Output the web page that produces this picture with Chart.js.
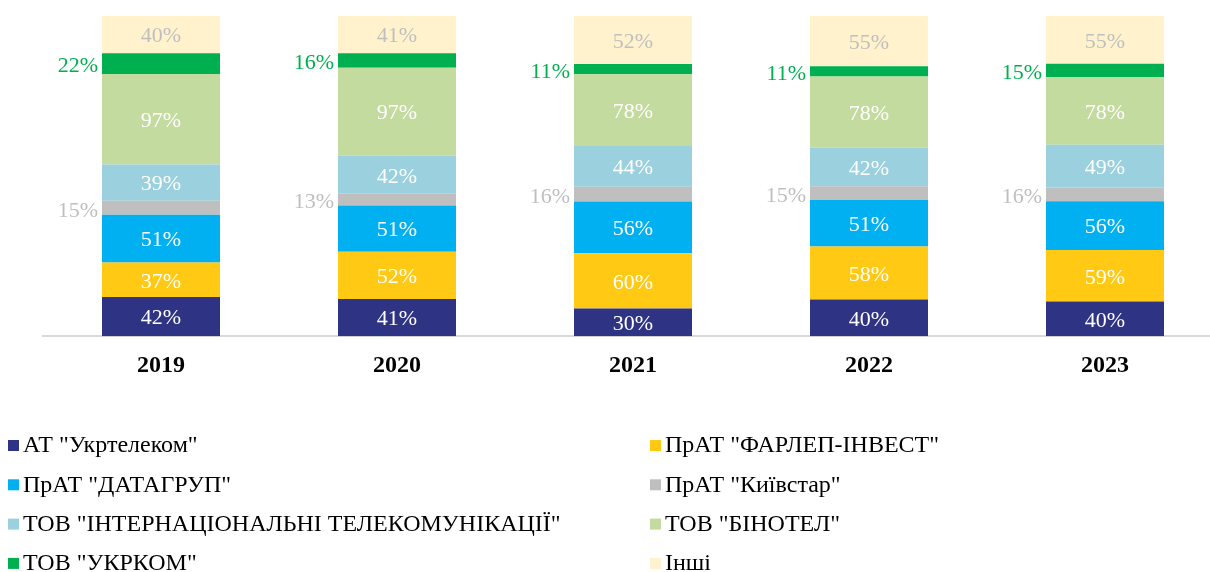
<!DOCTYPE html>
<html>
<head>
<meta charset="utf-8">
<script src="https://cdn.jsdelivr.net/npm/chart.js@4.4.1/dist/chart.umd.min.js"></script>
<style>
    body { margin: 0; background: #fff; overflow: hidden; width: 1210px; height: 572px; position: relative; }
    #wrap { position: absolute; left: 0; top: 0; width: 1223px; height: 572px; }
</style>
</head>
<body>
<div id="wrap"><canvas id="barChart"></canvas></div>
<script>
const years = ["2019", "2020", "2021", "2022", "2023"];

// значення з підписів діаграми, %
const ukrtelecom = [42, 41, 30, 40, 40];
const farlep = [37, 52, 60, 58, 59];
const datagroup = [51, 51, 56, 51, 56];
const kyivstar = [15, 13, 16, 15, 16];
const intTelecom = [39, 42, 44, 42, 49];
const binotel = [97, 97, 78, 78, 78];
const ukrkom = [22, 16, 11, 11, 15];
const others = [40, 41, 52, 55, 55];

const seriesNames = [
    'АТ "Укртелеком"',
    'ПрАТ "ФАРЛЕП-ІНВЕСТ"',
    'ПрАТ "ДАТАГРУП"',
    'ПрАТ "Київстар"',
    'ТОВ "ІНТЕРНАЦІОНАЛЬНІ ТЕЛЕКОМУНІКАЦІЇ"',
    'ТОВ "БІНОТЕЛ"',
    'ТОВ "УКРКОМ"',
    "Інші",
];
const seriesValues = [ukrtelecom, farlep, datagroup, kyivstar, intTelecom, binotel, ukrkom, others];
const seriesColors = ["#2E3384", "#FFC914", "#00B0F0", "#BFBFBF", "#9BD0DF", "#C4DBA0", "#00B050", "#FFF2CC"];
// колір і розташування підписів
const labelColors = ["#fff", "#fff", "#fff", "#BFBFBF", "#fff", "#fff", "#00B050", "#BFBFBF"];
const labelOutside = [false, false, false, true, false, false, true, false];

const FONT = "'Liberation Serif', serif";

// стовпці нормуються до 100% (як у Excel "100% stacked")
const totals = years.map((_, i) => seriesValues.reduce((s, arr) => s + arr[i], 0));

const datasets = seriesNames.map((name, k) => ({
    label: name,
    data: seriesValues[k].map((v, i) => (v / totals[i]) * 100),
    raw: seriesValues[k],
    backgroundColor: seriesColors[k],
    borderWidth: 0,
    categoryPercentage: 1,
    barPercentage: 0.5,
}));

const valueLabels = {
    id: "valueLabels",
    afterDatasetsDraw(chart) {
        const ctx = chart.ctx;
        ctx.save();
        ctx.font = "22px " + FONT;
        ctx.textBaseline = "middle";
        chart.data.datasets.forEach((ds, k) => {
            chart.getDatasetMeta(k).data.forEach((bar, i) => {
                const yMid = (bar.y + bar.base) / 2;
                ctx.fillStyle = labelColors[k];
                if (labelOutside[k]) {
                    ctx.textAlign = "right";
                    ctx.fillText(ds.raw[i] + "%", bar.x - bar.width / 2 - 4, yMid + 3);
                } else {
                    ctx.textAlign = "center";
                    ctx.fillText(ds.raw[i] + "%", bar.x, yMid + 2);
                }
            });
        });
        ctx.restore();
    },
};

// легенда у два стовпці під віссю
const twoColLegend = {
    id: "twoColLegend",
    afterDraw(chart) {
        const ctx = chart.ctx;
        ctx.save();
        ctx.font = "24px " + FONT;
        ctx.textBaseline = "middle";
        ctx.textAlign = "left";
        chart.data.datasets.forEach((ds, k) => {
            const x = k % 2 === 0 ? 8 : 650;
            const y = 445 + Math.floor(k / 2) * 39.3;
            ctx.fillStyle = ds.backgroundColor;
            ctx.fillRect(x, y - 5, 11, 11);
            ctx.fillStyle = "#000";
            ctx.fillText(ds.label, x + 15, y + 1);
        });
        ctx.restore();
    },
};

const drawChart = () => {
    new Chart(document.getElementById("barChart"), {
        type: "bar",
        data: { labels: years, datasets: datasets },
        options: {
            responsive: true,
            maintainAspectRatio: false,
            animation: false,
            layout: { padding: { left: 43, right: 0, top: 16, bottom: 177 } },
            plugins: { legend: { display: false }, tooltip: { enabled: false } },
            scales: {
                x: {
                    stacked: true,
                    grid: { display: false, drawTicks: false },
                    border: { color: "#D9D9D9", width: 2 },
                    ticks: {
                        padding: 15,
                        color: "#000",
                        font: { family: FONT, size: 24, weight: "bold" },
                    },
                },
                y: { stacked: true, display: false, min: 0, max: 100 },
            },
        },
        plugins: [valueLabels, twoColLegend],
    });
};

// чекаємо шрифт, щоб canvas малював уже serif
document.fonts.load("22px 'Liberation Serif'").then(drawChart, drawChart);
</script>
</body>
</html>
